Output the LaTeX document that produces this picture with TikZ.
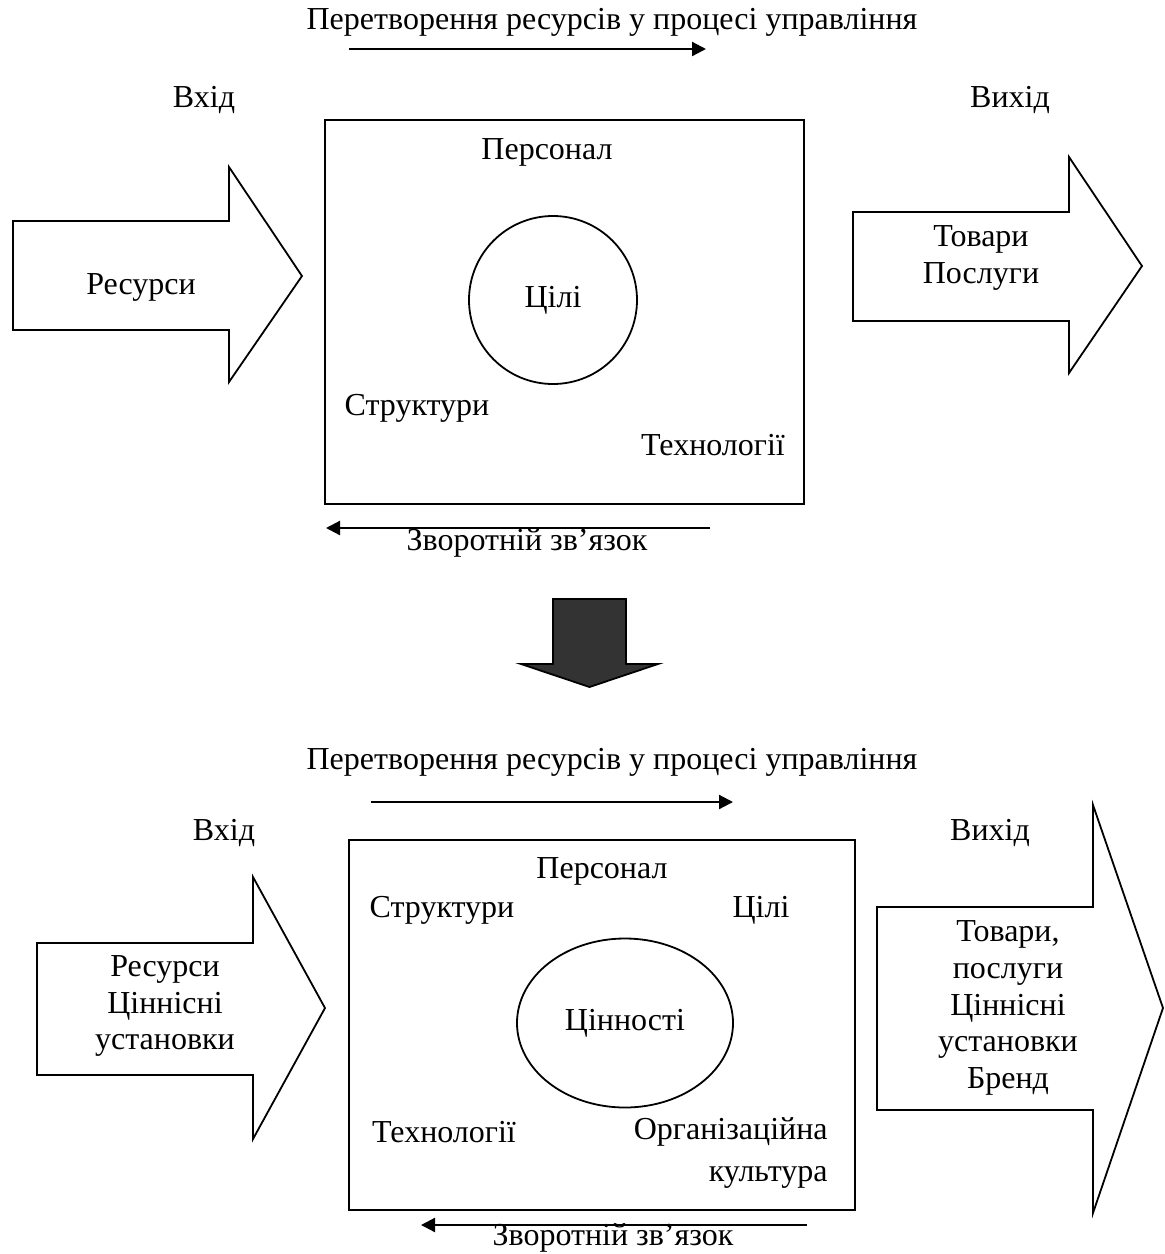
\documentclass[tikz,border=0pt]{standalone}
\usepackage{fontspec}
\setmainfont{Liberation Serif}
\usetikzlibrary{arrows.meta,shapes.geometric}
\definecolor{darkfill}{HTML}{333333}

\tikzset{
  lbl/.style={font=\fontsize{16}{18.4}\selectfont, inner sep=0pt, align=center},
  blk/.style={draw, line width=0.9pt, fill=white},
  flow/.style={line width=1.1pt, -{Triangle[length=7pt,width=7pt]}},
}

\begin{document}
\begin{tikzpicture}[x=0.5pt, y=-0.5pt]
\useasboundingbox (0,0) rectangle (1165,1254);

% upper scheme
\node[lbl] (title1) at (612,22) {Перетворення ресурсів у процесі управління};
\coordinate (flow1a) at (349,49);
\coordinate (flow1b) at (706,49);
\draw[flow] (flow1a) -- (flow1b);
\node[lbl] (in1) at (204,100) {Вхід};
\node[lbl] (out1) at (1010,100) {Вихід};

\draw[blk] (13,221) -- (229,221) -- (229,167) -- (302,276) -- (229,382) -- (229,330) -- (13,330) -- cycle;
\node[lbl] (res1) at (141,287) {Ресурси};
\draw[blk] (853,212) -- (1069,212) -- (1069,157) -- (1142,266) -- (1069,373) -- (1069,321) -- (853,321) -- cycle;
\node[lbl] (prod1) at (981,258) {Товари\\Послуги};

\draw[blk] (325,120) rectangle (804,504);
\node[lbl] (staff1) at (547,152) {Персонал};
\node[lbl, draw, line width=0.9pt, circle, minimum size=84pt] (goal1) at (553,300) {Цілі};
\node[lbl] (struct1) at (417,408) {Структури};
\node[lbl] (tech1) at (713,445) {Технології};

\coordinate (fb1a) at (710,528);
\coordinate (fb1b) at (326,528);
\draw[flow] (fb1a) -- (fb1b);
\node[lbl] (fbtext1) at (527,543) {Зворотній зв’язок};

% transition
\draw[line width=0.9pt, fill=darkfill] (553,599) -- (626,599) -- (626,664) -- (658,664) -- (589.5,687) -- (521,664) -- (553,664) -- cycle;

% lower scheme
\node[lbl] (title2) at (612,762) {Перетворення ресурсів у процесі управління};
\coordinate (flow2a) at (371,802);
\coordinate (flow2b) at (733,802);
\draw[flow] (flow2a) -- (flow2b);
\node[lbl] (in2) at (224,833) {Вхід};
\node[lbl] (out2) at (990,833) {Вихід};

\draw[blk] (37,943) -- (253,943) -- (253,877) -- (325,1008) -- (253,1139) -- (253,1075) -- (37,1075) -- cycle;
\node[lbl] (res2) at (165,1006) {Ресурси\\Ціннісні\\установки};
\draw[blk] (877,907) -- (1093,907) -- (1093,805) -- (1163,1008) -- (1093,1213) -- (1093,1110) -- (877,1110) -- cycle;
\node[lbl] (prod2) at (1008,1008) {Товари,\\послуги\\Ціннісні\\установки\\Бренд};

\draw[blk] (349,840) rectangle (855,1210);
\node[lbl] (staff2) at (602,871) {Персонал};
\node[lbl] (struct2) at (442,910) {Структури};
\node[lbl] (goal2) at (761,910) {Цілі};
\node[lbl, draw, line width=0.9pt, ellipse, minimum width=108pt, minimum height=84.5pt] (val2) at (625,1023) {Цінності};
\node[lbl] (tech2) at (444,1132) {Технології};
\node[lbl, align=right, anchor=east] (cult2) at (828,1153) {Організаційна\\[2.5pt]культура};

\coordinate (fb2a) at (807,1225);
\coordinate (fb2b) at (421,1225);
\draw[flow] (fb2a) -- (fb2b);
\node[lbl] (fbtext2) at (613,1238) {Зворотній зв’язок};
\end{tikzpicture}
\end{document}
